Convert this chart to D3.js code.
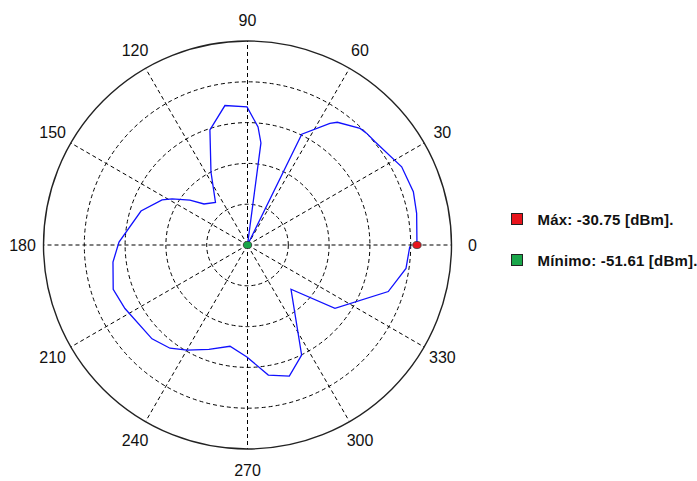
<!DOCTYPE html>
<html>
<head>
<meta charset="utf-8">
<script src="https://cdn.jsdelivr.net/npm/d3@7"></script>
<style>
  body { margin: 0; background: #fff; }
  svg { display: block; }
  .lbl { font-family: Arial, "Liberation Sans", sans-serif; font-size: 16px; fill: #111; }
  .leg { font-family: Arial, "Liberation Sans", sans-serif; font-size: 15px; font-weight: bold; fill: #111; letter-spacing: 0.2px; }
</style>
</head>
<body>
<div id="chart"></div>
<script>
// measured pattern, angle in degrees and level in dBm
var angles = [0, 10.6, 17.8, 26.9, 39, 43.1, 46, 53.8, 55.9, 63.9, 73, 82.5, 84.9, 90.2, 99.2, 108.1,
  116.6, 127, 136.7, 142, 148.6, 152.2, 162.3, 178.7, 187.2, 198.3, 207.4, 224.5, 233.1, 240.1,
  249.7, 260.2, 269.7, 279.1, 287.7, 296.2, 314.5, 324.1, 341.7, 351.6, 359.5]
var levels = [-30.75, -30.43, -30.17, -30.33, -31.41, -31.50, -31.66, -32.89, -33.52, -36.43, -51.61,
  -38.94, -37.02, -34.62, -34.22, -36.72, -41.57, -45.06, -44.25, -42.62, -40.73, -39.72, -37.85,
  -35.79, -34.92, -34.20, -34.62, -35.13, -35.72, -36.69, -37.92, -38.96, -37.82, -35.40, -34.68,
  -36.52, -43.97, -38.32, -33.36, -31.89, -31.63]

var angleTicks = [0, 30, 60, 90, 120, 150, 180, 210, 240, 270, 300, 330]
var maxLevel = -30.75, maxAngle = 0
var minLevel = -51.61, minAngle = 73
var legendLabels = ['Máx: -30.75 [dBm].', 'Mínimo: -51.61 [dBm].']
var legendColors = ['#e8141c', '#1aa64a']

var width = 697
var height = 481
var cx = 247.5
var cy = 245
var R = 204

var svg = d3.select('#chart').append('svg')
  .attr('width', width)
  .attr('height', height)

var rScale = d3.scaleLinear().domain([minLevel, -26.5]).range([0, R])
// radial angle for d3: 0 at top, clockwise
var aScale = d3.scaleLinear().domain([0, 360]).range([Math.PI / 2, Math.PI / 2 - 2 * Math.PI])

var g = svg.append('g').attr('transform', 'translate(' + cx + ',' + cy + ')')

// dashed rings
var rings = d3.range(1, 5).map(function (i) { return R * i / 5 })
g.selectAll('.ring').data(rings).enter().append('circle')
  .attr('r', function (d) { return d })
  .attr('fill', 'none')
  .attr('stroke', '#000')
  .attr('stroke-width', 1)
  .attr('stroke-dasharray', '4,3')

// spokes
g.selectAll('.spoke').data(angleTicks).enter().append('line')
  .attr('x1', 0).attr('y1', 0)
  .attr('x2', function (d) { return R * Math.sin(aScale(d)) })
  .attr('y2', function (d) { return -R * Math.cos(aScale(d)) })
  .attr('stroke', '#000')
  .attr('stroke-width', 1)
  .attr('stroke-dasharray', '4,3')

// outer circle
g.append('circle')
  .attr('r', R)
  .attr('fill', 'none')
  .attr('stroke', '#222')
  .attr('stroke-width', 1.4)

// angle labels
g.selectAll('.lbl').data(angleTicks).enter().append('text')
  .attr('class', 'lbl')
  .attr('x', function (d) { return 225 * Math.sin(aScale(d)) })
  .attr('y', function (d) { return -225 * Math.cos(aScale(d)) })
  .attr('text-anchor', 'middle')
  .attr('dy', '0.36em')
  .text(function (d) { return d })

var pts = angles.map(function (a, i) { return { a: a, v: levels[i] } })

var line = d3.lineRadial()
  .angle(function (d) { return aScale(d.a) })
  .radius(function (d) { return rScale(d.v) })

g.append('path')
  .datum(pts)
  .attr('d', line)
  .attr('fill', 'none')
  .attr('stroke', '#1010ff')
  .attr('stroke-width', 1.3)

// max / min markers
var marks = [{ a: maxAngle, v: maxLevel, c: legendColors[0] }, { a: minAngle, v: minLevel, c: legendColors[1] }]
g.selectAll('.mark').data(marks).enter().append('ellipse')
  .attr('cx', function (d) { return rScale(d.v) * Math.sin(aScale(d.a)) })
  .attr('cy', function (d) { return -rScale(d.v) * Math.cos(aScale(d.a)) })
  .attr('rx', 4.2)
  .attr('ry', 3.6)
  .attr('fill', function (d) { return d.c })
  .attr('stroke', '#333')
  .attr('stroke-width', 0.8)

// legend
var leg = svg.append('g').attr('transform', 'translate(511.5,213.5)')
legendLabels.forEach(function (t, i) {
  leg.append('rect')
    .attr('x', 0).attr('y', i * 41)
    .attr('width', 11).attr('height', 11)
    .attr('fill', legendColors[i])
    .attr('stroke', '#222')
    .attr('stroke-width', 1)
  leg.append('text')
    .attr('class', 'leg')
    .attr('x', 26).attr('y', i * 41 + 6)
    .attr('dy', '0.35em')
    .text(t)
})
</script>
</body>
</html>
